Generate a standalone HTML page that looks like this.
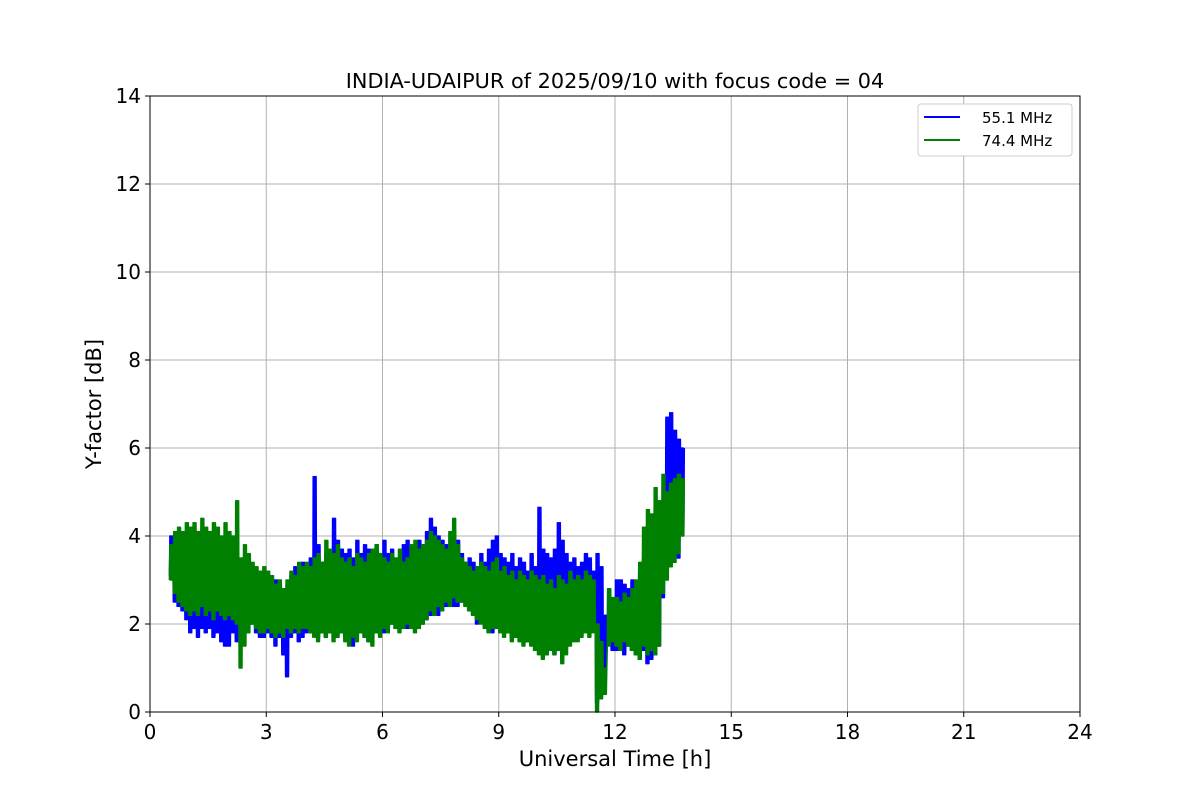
<!DOCTYPE html>
<html><head><meta charset="utf-8"><style>
body{margin:0;background:#fff}
svg text{font-family:"DejaVu Sans","Liberation Sans",sans-serif;fill:#000}
</style></head><body>
<svg id="chart" width="1200" height="800">
<rect width="1200" height="800" fill="#fff"/>
<text x="615" y="88" font-size="20.8" text-anchor="middle">INDIA-UDAIPUR of 2025/09/10 with focus code = 04</text>
<g id="grid"></g>
<g id="series"></g>
<rect x="150" y="96" width="930" height="616" fill="none" stroke="#000" stroke-width="1"/>
<g id="ticks"></g>
<text x="615" y="766" font-size="21" text-anchor="middle">Universal Time [h]</text>
<text transform="translate(101,404) rotate(-90)" font-size="21" text-anchor="middle">Y-factor [dB]</text>
<g>
<rect x="918" y="104" width="154" height="52" rx="3" fill="#fff" stroke="#ccc"/>
<line x1="924" y1="117" x2="960" y2="117" stroke="#0000ff" stroke-width="2"/>
<text x="982" y="123" font-size="15">55.1 MHz</text>
<line x1="924" y1="140" x2="960" y2="140" stroke="#008000" stroke-width="2"/>
<text x="982" y="146" font-size="15">74.4 MHz</text>
</g>
</svg>
<script>
const xTicks=[0,3,6,9,12,15,18,21,24];
const yTicks=[0,2,4,6,8,10,12,14];
const binStart=0.5, binStep=0.1;
const blueLow=[3.1,2.5,2.4,2.3,2.1,
1.8,1.9,1.7,1.9,1.8,1.9,1.7,1.8,1.6,1.5,
1.5,1.8,1.6,2.0,2.0,1.9,2.0,1.8,1.7,1.7,
1.8,1.7,1.5,1.7,1.3,0.8,1.7,1.8,1.6,1.7,
1.8,1.9,2.0,1.7,1.9,1.7,1.8,1.8,1.7,1.9,
1.8,1.7,1.5,1.7,1.8,1.7,1.6,1.8,1.9,1.9,
1.8,1.9,2.0,1.9,2.0,2.1,1.9,1.9,1.9,2.0,
2.0,2.1,2.2,2.3,2.2,2.3,2.4,2.5,2.4,2.4,
2.5,2.5,2.3,2.2,2.0,2.1,2.2,2.0,1.8,1.9,
1.9,1.8,1.8,1.7,1.7,1.8,1.6,1.6,1.7,1.5,
1.4,1.4,1.3,1.4,1.3,1.4,1.2,1.5,1.6,1.7,
1.7,1.8,1.9,1.8,1.9,0.2,0.3,0.8,1.6,1.4,
1.4,1.4,1.3,1.5,1.4,1.3,1.2,1.4,1.1,1.2,
1.3,1.5,2.6,3.8,4.0,3.8,3.5,4.2];
const blueHigh=[4.0,3.9,3.8,3.7,3.9,
4.0,3.9,3.8,3.9,4.0,3.8,4.0,3.9,3.7,3.8,
3.7,3.6,3.8,3.4,3.3,3.2,3.1,3.0,2.9,3.0,
3.1,2.9,3.0,2.9,2.8,2.9,3.1,3.3,3.2,3.4,
3.3,3.5,5.35,3.8,3.4,3.6,3.5,4.4,3.9,3.7,
3.6,3.7,3.5,3.9,3.6,3.8,3.7,3.5,3.8,3.6,
3.9,3.6,3.7,3.4,3.5,3.8,3.9,3.7,3.8,3.9,
3.8,4.1,4.4,4.2,4.0,3.9,3.8,3.7,4.1,3.9,
3.6,3.4,3.5,3.4,3.3,3.6,3.4,3.7,3.9,4.0,
3.6,3.5,3.4,3.6,3.3,3.5,3.4,3.2,3.6,3.3,
4.65,3.7,3.6,3.5,3.7,4.3,3.9,3.6,3.4,3.5,
3.3,3.4,3.6,3.5,3.2,3.6,3.3,2.2,2.8,2.6,
3.0,3.0,2.9,2.8,3.0,2.9,3.2,3.5,3.3,3.2,
3.6,3.8,4.2,6.7,6.8,6.4,6.2,6.0];
const greenLow=[3.0,2.7,2.5,2.4,2.3,
2.2,2.3,2.2,2.4,2.2,2.3,2.1,2.3,2.2,2.1,
2.2,2.1,2.0,1.0,1.5,1.8,2.0,1.9,1.8,1.8,
1.9,1.8,1.7,1.8,1.7,1.9,1.8,1.9,1.8,1.9,
1.9,1.8,1.7,1.6,1.8,1.7,1.8,1.6,1.7,1.8,
1.6,1.5,1.7,1.6,1.8,1.7,1.6,1.5,1.8,1.7,
1.9,1.8,2.0,1.9,1.8,1.9,2.0,1.9,1.8,1.9,
2.0,2.1,2.3,2.2,2.4,2.3,2.5,2.4,2.6,2.5,
2.5,2.4,2.3,2.2,2.1,2.0,1.9,1.8,1.9,1.9,
1.8,1.7,1.8,1.6,1.7,1.6,1.5,1.6,1.5,1.4,
1.3,1.2,1.3,1.4,1.3,1.4,1.1,1.3,1.5,1.6,
1.6,1.7,1.8,1.7,1.8,0.0,0.3,0.4,1.5,1.6,
1.5,1.4,1.6,1.5,1.4,1.3,1.2,1.5,1.3,1.4,
1.3,1.5,2.7,3.0,3.3,3.4,3.6,4.0];
const greenHigh=[3.8,4.1,4.2,4.1,4.3,
4.2,4.3,4.1,4.4,4.2,4.1,4.3,4.2,4.0,4.3,
4.1,4.0,4.8,3.5,3.8,3.6,3.4,3.3,3.2,3.3,
3.2,3.1,2.9,3.0,2.8,3.0,3.2,3.1,3.4,3.3,
3.4,3.3,3.5,3.6,3.4,3.9,3.7,3.6,3.8,3.5,
3.4,3.5,3.3,3.6,3.5,3.4,3.6,3.7,3.8,3.6,
3.5,3.4,3.6,3.5,3.7,3.4,3.5,3.8,3.9,3.7,
3.8,3.9,4.1,4.0,3.9,3.8,3.7,4.1,4.4,3.8,
3.5,3.4,3.3,3.2,3.3,3.4,3.3,3.2,3.4,3.5,
3.2,3.3,3.1,3.2,3.0,3.2,3.1,3.0,3.2,3.1,
3.0,3.1,2.9,3.0,2.8,3.1,3.0,2.9,3.2,3.0,
3.1,3.0,3.2,3.1,3.0,2.0,1.6,1.0,2.8,2.6,
2.6,2.5,2.7,2.6,2.8,3.0,3.4,4.2,4.6,4.5,
5.1,4.8,5.4,5.0,5.2,5.3,5.4,5.3];

const X0=150,X1=1080,Y0=712,Y1=96;
const xs=v=>X0+(v-0)/(24-0)*(X1-X0);
const ys=v=>Y0-(v-0)/(14-0)*(Y0-Y1);
const NS="http://www.w3.org/2000/svg";
const grid=document.getElementById('grid'),ticks=document.getElementById('ticks'),series=document.getElementById('series');
function mk(tag,attrs,parent){const e=document.createElementNS(NS,tag);for(const k in attrs)e.setAttribute(k,attrs[k]);parent.appendChild(e);return e;}
xTicks.forEach(t=>{
 const g=mk('line',{x1:xs(t),x2:xs(t),y1:Y1,y2:Y0,stroke:'#b0b0b0','stroke-width':1},grid);
 
 
 const tk=mk('line',{x1:xs(t),x2:xs(t),y1:Y0,y2:Y0+5,stroke:'#000'},ticks);
 
 
 const tx=mk('text',{x:xs(t),y:Y0+27,'font-size':20,'text-anchor':'middle'},ticks);
 tx.textContent=t;
 
 
});
yTicks.forEach(t=>{
 const g=mk('line',{x1:X0,x2:X1,y1:ys(t),y2:ys(t),stroke:'#b0b0b0','stroke-width':1},grid);
 
 
 const tk=mk('line',{x1:X0-5,x2:X0,y1:ys(t),y2:ys(t),stroke:'#000'},ticks);
 
 
 const tx=mk('text',{x:X0-9,y:ys(t)+7,'font-size':20,'text-anchor':'end'},ticks);
 tx.textContent=t;
 
 
});
function draw(lo,hi,color,name){
 let d='';
 const sub=8;
 for(let i=0;i<lo.length;i++){
  const t=binStart+i*binStep;
  for(let j=0;j<sub;j++){
   const v=(j%2===0)?lo[i]:hi[i];
   d+=(i===0&&j===0?'M':'L')+xs(t+binStep*j/sub).toFixed(1)+','+ys(v).toFixed(1);
  }
 }
 const p=mk('path',{d:d,fill:'none',stroke:color,'stroke-width':1.5,'stroke-linejoin':'round'},series);
 
 
}
draw(blueLow,blueHigh,'#0000ff','series-55-1-mhz');
draw(greenLow,greenHigh,'#008000','series-74-4-mhz');
</script>
</body></html>
